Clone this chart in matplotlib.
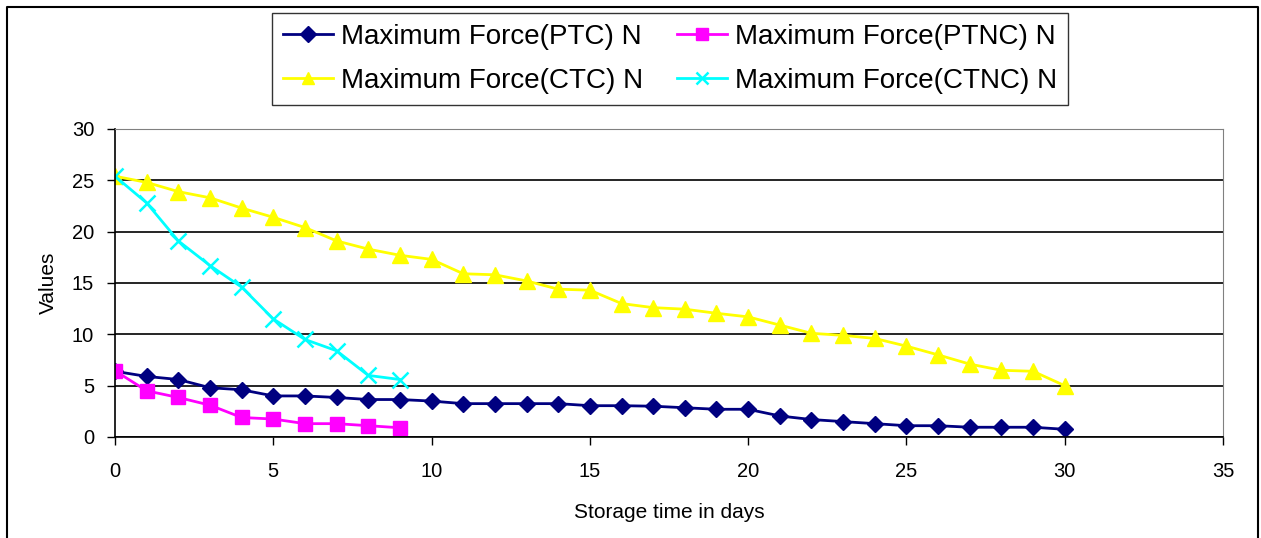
import matplotlib
matplotlib.use('Agg')
import matplotlib.pyplot as plt
from matplotlib.lines import Line2D

plt.rcParams['font.family'] = ['Liberation Sans', 'DejaVu Sans']

# Data
days_long = list(range(0, 31))
days_short = list(range(0, 10))

ptc = [6.4, 5.9, 5.6, 4.8, 4.6, 4.0, 4.0, 3.85, 3.65, 3.65, 3.5, 3.25, 3.25, 3.25, 3.25,
       3.05, 3.05, 3.0, 2.85, 2.7, 2.7, 2.05, 1.7, 1.5, 1.3, 1.1, 1.1, 0.95, 0.95, 0.95, 0.75]
ctc = [25.4, 24.8, 23.9, 23.3, 22.3, 21.4, 20.4, 19.1, 18.3, 17.7, 17.3, 15.9, 15.8, 15.2, 14.4,
       14.3, 13.0, 12.6, 12.45, 12.05, 11.7, 10.9, 10.1, 9.9, 9.6, 8.85, 8.0, 7.1, 6.5, 6.4, 5.0]
ptnc = [6.45, 4.5, 3.85, 3.1, 1.9, 1.75, 1.3, 1.3, 1.1, 0.9]
ctnc = [25.4, 22.8, 19.1, 16.7, 14.6, 11.5, 9.5, 8.4, 6.0, 5.6]

labels = ['Maximum Force(PTC) N', 'Maximum Force(PTNC) N',
          'Maximum Force(CTC) N', 'Maximum Force(CTNC) N']

fig = plt.figure(figsize=(12.61, 5.38), dpi=100)
ax = fig.add_axes([115 / 1261, 1 - 437 / 538, (1223 - 115) / 1261, (437 - 129) / 538])

l_ptc, = ax.plot(days_long, ptc, color='#000080', lw=2, marker='D', ms=8, label=labels[0])
l_ptnc, = ax.plot(days_short, ptnc, color='#ff00ff', lw=2, marker='s', ms=10, label=labels[1])
l_ctc, = ax.plot(days_long, ctc, color='#ffff00', lw=2, marker='^', ms=11, label=labels[2])
l_ctnc, = ax.plot(days_short, ctnc, color='#00ffff', lw=2, marker='x', ms=12, mew=1.8, label=labels[3])

ax.set_xlim(0, 35)
ax.set_ylim(0, 30)
ax.set_xticks(range(0, 36, 5))
ax.set_yticks(range(0, 31, 5))
ax.yaxis.grid(True, color='black', lw=1.2)
ax.set_axisbelow(True)
ax.tick_params(axis='both', labelsize=14.5, direction='out', length=6, width=1, color='black')
ax.tick_params(axis='y', pad=9)
ax.tick_params(axis='x', pad=12)
for s in ['top', 'right']:
    ax.spines[s].set_color('#808080')
for s in ['left', 'bottom']:
    ax.spines[s].set_color('black')
    ax.spines[s].set_linewidth(1.2)

ax.set_xlabel('Storage time in days', fontsize=15, labelpad=16)
ax.set_ylabel('Values', fontsize=15, labelpad=10)

# legend: two columns, row-wise order as in the original
leg = fig.legend([l_ptc, l_ctc, l_ptnc, l_ctnc],
                 [labels[0], labels[2], labels[1], labels[3]],
                 ncol=2, loc='upper left', bbox_to_anchor=(272 / 1261, 1 - 13 / 538),
                 fontsize=20, frameon=True, fancybox=False, edgecolor='black',
                 borderpad=0.4, columnspacing=1.2, handlelength=1.8, handletextpad=0.3,
                 labelspacing=0.65, borderaxespad=0)
leg.get_frame().set_linewidth(1)
for h in leg.legend_handles:
    h.set_markersize(8)

# outer chart frame
x0, x1, y1 = 7 / 1261, 1258 / 1261, 1 - 7 / 538
fig.add_artist(Line2D([x0, x0, x1, x1], [-0.01, y1, y1, -0.01], color='black', lw=1.5))

fig.savefig('out.png', dpi=100)
